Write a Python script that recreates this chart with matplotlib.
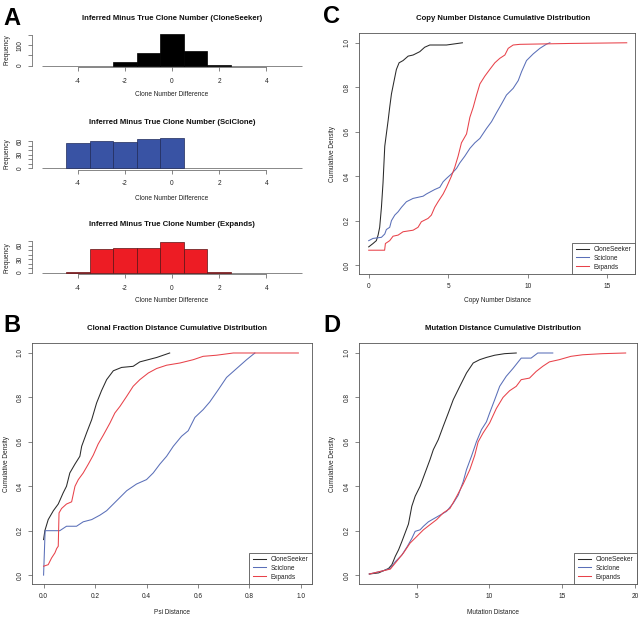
import matplotlib
matplotlib.use("Agg")
import matplotlib.pyplot as plt
import numpy as np

plt.rcParams['font.family'] = ['Liberation Sans', 'DejaVu Sans']

# ---------------- data ----------------
clone_diff = [-5, -4, -3, -2, -1, 0, 1, 2, 3, 4, 5]
cs_counts = [0, 0, 0, 17, 62, 154, 71, 3, 0, 0, 0]
sc_counts = [0, 55, 61, 57, 64, 66, 0, 0, 0, 0, 0]
ex_counts = [0, 1, 52, 54, 55, 69, 53, 1, 0, 0, 0]

hist_titles = ["Inferred Minus True Clone Number (CloneSeeker)",
               "Inferred Minus True Clone Number (SciClone)",
               "Inferred Minus True Clone Number (Expands)"]
hist_yticks = [[0, 50, 100, 150], [0, 10, 20, 30, 40, 50, 60], [0, 10, 20, 30, 40, 50, 60, 70]]
hist_ylabels = [["0", "", "100", ""], ["0", "", "", "30", "", "", "60"],
                ["0", "", "", "30", "", "", "60", ""]]
hist_xticks = [-4, -2, 0, 2, 4]

# Panel B: Psi distance ECDFs
B_cs_x = [0.0, 0.005, 0.018, 0.038, 0.057, 0.076, 0.089, 0.102, 0.122, 0.141, 0.148, 0.167, 0.187,
          0.206, 0.225, 0.245, 0.271, 0.303, 0.348, 0.374, 0.407, 0.440, 0.465, 0.49]
B_cs_y = [0.16, 0.20, 0.25, 0.29, 0.32, 0.37, 0.40, 0.46, 0.50, 0.535, 0.58, 0.64, 0.70,
          0.775, 0.83, 0.88, 0.92, 0.935, 0.94, 0.96, 0.97, 0.98, 0.99, 1.0]
B_sc_x = [0.0, 0.003, 0.006, 0.063, 0.089, 0.128, 0.154, 0.187, 0.219, 0.245, 0.271, 0.297, 0.323,
          0.361, 0.400, 0.426, 0.452, 0.478, 0.504, 0.536, 0.562, 0.588, 0.620, 0.646, 0.679, 0.711,
          0.750, 0.789, 0.821]
B_sc_y = [0.0, 0.10, 0.20, 0.20, 0.22, 0.22, 0.24, 0.25, 0.27, 0.29, 0.32, 0.35, 0.38,
          0.41, 0.43, 0.46, 0.50, 0.535, 0.58, 0.625, 0.65, 0.71, 0.745, 0.78, 0.835, 0.89,
          0.93, 0.97, 1.0]
B_ex_x = [0.0, 0.018, 0.031, 0.044, 0.051, 0.057, 0.060, 0.070, 0.089, 0.109, 0.122, 0.135, 0.154,
          0.174, 0.193, 0.212, 0.232, 0.258, 0.277, 0.297, 0.323, 0.348, 0.374, 0.407, 0.439, 0.478,
          0.530, 0.582, 0.620, 0.672, 0.737, 0.99]
B_ex_y = [0.04, 0.047, 0.077, 0.10, 0.12, 0.13, 0.28, 0.30, 0.32, 0.33, 0.40, 0.43, 0.46,
          0.50, 0.54, 0.59, 0.63, 0.685, 0.73, 0.76, 0.805, 0.85, 0.88, 0.91, 0.93, 0.945,
          0.955, 0.97, 0.985, 0.99, 1.0, 1.0]

# Panel C: copy number distance ECDFs
C_cs_x = [0.0, 0.27, 0.48, 0.59, 0.69, 0.80, 0.90, 1.01, 1.11, 1.22, 1.32, 1.43, 1.57, 1.74, 1.91,
          2.16, 2.48, 2.79, 3.21, 3.52, 3.84, 4.89, 5.89]
C_cs_y = [0.082, 0.097, 0.11, 0.135, 0.17, 0.26, 0.37, 0.535, 0.59, 0.65, 0.71, 0.77, 0.82, 0.88, 0.91,
          0.92, 0.94, 0.945, 0.96, 0.98, 0.99, 0.99, 1.0]
C_sc_x = [0.0, 0.27, 0.80, 1.01, 1.11, 1.32, 1.43, 1.64, 1.85, 2.06, 2.37, 2.79, 3.42, 3.63, 4.15,
          4.47, 4.68, 4.89, 5.20, 5.52, 5.73, 6.04, 6.36, 6.67, 6.99, 7.41, 7.72, 8.03, 8.35, 8.66,
          9.08, 9.40, 9.61, 9.92, 10.34, 10.76, 11.18, 11.39]
C_sc_y = [0.11, 0.12, 0.125, 0.14, 0.16, 0.17, 0.20, 0.225, 0.24, 0.26, 0.285, 0.30, 0.31, 0.32, 0.34,
          0.35, 0.375, 0.39, 0.41, 0.435, 0.46, 0.49, 0.525, 0.55, 0.57, 0.615, 0.645, 0.685, 0.725,
          0.765, 0.795, 0.83, 0.87, 0.92, 0.95, 0.975, 0.994, 1.0]
C_ex_x = [0.0, 1.0, 1.05, 1.32, 1.53, 1.85, 2.16, 2.79, 3.10, 3.31, 3.73, 3.94, 4.15, 4.36, 4.68,
          4.89, 5.20, 5.41, 5.62, 5.83, 6.15, 6.36, 6.57, 6.78, 6.99, 7.30, 7.61, 7.93, 8.24, 8.56,
          8.77, 9.08, 9.50, 12.65, 16.22]
C_ex_y = [0.067, 0.067, 0.097, 0.11, 0.13, 0.135, 0.15, 0.157, 0.17, 0.195, 0.21, 0.225, 0.26, 0.285,
          0.32, 0.35, 0.40, 0.44, 0.49, 0.55, 0.59, 0.665, 0.71, 0.765, 0.815, 0.85, 0.88, 0.91, 0.93,
          0.945, 0.975, 0.99, 0.993, 0.997, 1.0]

# Panel D: mutation distance ECDFs
D_cs_x = [1.74, 2.38, 2.72, 3.06, 3.29, 3.52, 3.75, 3.97, 4.20, 4.43, 4.66, 4.89, 5.23, 5.57, 5.91,
          6.14, 6.48, 6.82, 7.17, 7.51, 7.96, 8.42, 8.88, 9.33, 9.79, 10.36, 11.04, 11.84]
D_cs_y = [0.005, 0.01, 0.02, 0.03, 0.047, 0.084, 0.114, 0.15, 0.19, 0.23, 0.31, 0.355, 0.40, 0.46, 0.52,
          0.565, 0.61, 0.67, 0.73, 0.79, 0.85, 0.91, 0.955, 0.97, 0.98, 0.99, 0.997, 1.0]
D_sc_x = [1.74, 2.72, 3.18, 3.52, 3.97, 4.36, 4.66, 4.89, 5.23, 5.46, 5.80, 6.25, 6.60, 7.05, 7.51,
          7.85, 8.19, 8.42, 8.76, 9.10, 9.45, 9.79, 10.01, 10.36, 10.70, 11.15, 11.61, 12.18, 12.86,
          13.32, 14.35]
D_sc_y = [0.005, 0.02, 0.03, 0.06, 0.09, 0.13, 0.165, 0.197, 0.204, 0.22, 0.24, 0.257, 0.27, 0.287,
          0.324, 0.36, 0.42, 0.475, 0.535, 0.60, 0.655, 0.69, 0.73, 0.79, 0.85, 0.895, 0.93, 0.977,
          0.977, 1.0, 1.0]
D_ex_x = [1.74, 2.72, 3.18, 3.52, 4.09, 4.54, 5.0, 5.46, 5.91, 6.37, 6.82, 7.28, 7.74, 8.19, 8.65,
          8.99, 9.22, 9.56, 10.01, 10.47, 10.93, 11.38, 11.84, 12.18, 12.75, 13.21, 13.66, 14.12,
          14.80, 15.60, 16.40, 17.76, 19.36]
D_ex_y = [0.005, 0.02, 0.027, 0.054, 0.10, 0.144, 0.174, 0.204, 0.227, 0.25, 0.28, 0.30, 0.354,
          0.41, 0.475, 0.54, 0.60, 0.64, 0.685, 0.75, 0.80, 0.83, 0.85, 0.88, 0.887, 0.917, 0.94,
          0.96, 0.97, 0.985, 0.992, 0.997, 1.0]

legend_labels = ["CloneSeeker", "Sciclone", "Expands"]
ytick_vals = [0.0, 0.2, 0.4, 0.6, 0.8, 1.0]

# ---------------- styling ----------------
W, H = 643, 617
fig = plt.figure(figsize=(W / 100, H / 100), dpi=100)
fig.patch.set_facecolor("white")

FS = 4.7
TFS = 5.6
AXC = "#555555"
LINE_K = "#2a2a2a"
LINE_B = "#5a6fb8"
LINE_R = "#e8424a"


def px_axes(l, t, r, b):
    return fig.add_axes([l / W, 1 - b / H, (r - l) / W, (b - t) / H])


def style_ticks(ax):
    ax.tick_params(axis="both", which="both", direction="out", length=2.8, width=0.5,
                   color=AXC, labelsize=FS, pad=3.4, labelcolor="#222222")
    ax.tick_params(axis="y", labelrotation=90)
    for lab in ax.get_yticklabels():
        lab.set_va("center")


def ftext(x, y, s, **kw):
    fig.text(x / W, 1 - y / H, s, **kw)


# ---------------- Panel A: histograms ----------------
hist_counts = [cs_counts, sc_counts, ex_counts]
hist_face = ["#000000", "#3953a4", "#ed1c24"]
hist_edge = ["#000000", "#1f2a5a", "#5a1214"]
hist_tb = [(33, 66.75), (137.1, 169.5), (240.4, 273.9)]
hist_title_y = [18, 123, 225]
hist_xlab_y = [95, 198, 301]

for i in range(3):
    t, b = hist_tb[i]
    ax = px_axes(32, t, 312, b)
    counts = hist_counts[i]
    centers = np.array(clone_diff, dtype=float)
    edges_lo = centers - 0.5
    edges_hi = centers + 0.5
    ax.hlines(0, edges_lo[0], edges_hi[-1], color="#888888", lw=0.7, zorder=1)
    nz = [j for j, c in enumerate(counts) if c > 0]
    ax.bar(centers[nz], [counts[j] for j in nz], width=1.0, color=hist_face[i],
           edgecolor=hist_edge[i], linewidth=0.5, zorder=2)
    ax.set_xlim(-5.94, 5.94)
    m = max(counts)
    ax.set_ylim(-0.04 * m, 1.04 * m)
    for s in ["top", "right"]:
        ax.spines[s].set_visible(False)
    ax.spines["left"].set_bounds(hist_yticks[i][0], hist_yticks[i][-1])
    ax.spines["bottom"].set_bounds(hist_xticks[0], hist_xticks[-1])
    for s in ["left", "bottom"]:
        ax.spines[s].set_color(AXC)
        ax.spines[s].set_linewidth(0.5)
    ax.set_xticks(hist_xticks)
    ax.set_xticklabels([str(v) for v in hist_xticks])
    ax.set_yticks(hist_yticks[i])
    ax.set_yticklabels(hist_ylabels[i])
    ax.set_facecolor("none")
    style_ticks(ax)
    ax.tick_params(axis="x", pad=5.0)
    ftext(172, hist_title_y[i], hist_titles[i], ha="center", va="center",
          fontsize=TFS, fontweight="bold", color="#111111")
    ftext(172, hist_xlab_y[i], "Clone Number Difference", ha="center", va="center",
          fontsize=FS, color="#222222")
    ftext(7, (t + b) / 2, "Frequency", ha="center", va="center", rotation=90,
          fontsize=FS, color="#222222")


# ---------------- ECDF panels ----------------
def ecdf_panel(box, series, xlim, ylim, xticks, xticklabels, title, title_xy, xlabel, xlab_xy, ylab_x):
    ax = px_axes(*box)
    cols = [LINE_K, LINE_B, LINE_R]
    for (xs, ys), c, lab in zip(series, cols, legend_labels):
        ax.plot(xs, ys, color=c, lw=0.75, label=lab)
    ax.set_xlim(*xlim)
    ax.set_ylim(*ylim)
    ax.set_xticks(xticks)
    ax.set_xticklabels(xticklabels)
    ax.set_yticks(ytick_vals)
    ax.set_yticklabels(["%.1f" % v for v in ytick_vals])
    for s in ax.spines.values():
        s.set_color(AXC)
        s.set_linewidth(0.6)
    style_ticks(ax)
    leg = ax.legend(loc="lower right", fontsize=FS, frameon=True, fancybox=False,
                    borderaxespad=0.0, borderpad=0.5, labelspacing=0.3, handlelength=2.0,
                    handletextpad=0.8, framealpha=1.0)
    leg.get_frame().set_edgecolor(AXC)
    leg.get_frame().set_linewidth(0.6)
    for txt in leg.get_texts():
        txt.set_color("#222222")
    ftext(title_xy[0], title_xy[1], title, ha="center", va="center",
          fontsize=TFS, fontweight="bold", color="#111111")
    ftext(xlab_xy[0], xlab_xy[1], xlabel, ha="center", va="center", fontsize=FS, color="#222222")
    ftext(ylab_x, (box[1] + box[3]) / 2, "Cumulative Density", ha="center", va="center",
          rotation=90, fontsize=FS, color="#222222")
    return ax


ecdf_panel((32, 343, 312, 584), [(B_cs_x, B_cs_y), (B_sc_x, B_sc_y), (B_ex_x, B_ex_y)],
           (-0.045, 1.043), (-0.04, 1.045), [0.0, 0.2, 0.4, 0.6, 0.8, 1.0],
           ["0.0", "0.2", "0.4", "0.6", "0.8", "1.0"],
           "Clonal Fraction Distance Cumulative Distribution", (177, 329),
           "Psi Distance", (172, 612), 7)

ecdf_panel((359, 33, 635, 274), [(C_cs_x, C_cs_y), (C_sc_x, C_sc_y), (C_ex_x, C_ex_y)],
           (-0.61, 16.74), (-0.04, 1.044), [0, 5, 10, 15], ["0", "5", "10", "15"],
           "Copy Number Distance Cumulative Distribution", (503, 19),
           "Copy Number Distance", (497, 301), 332)

ecdf_panel((359, 343, 637, 584), [(D_cs_x, D_cs_y), (D_sc_x, D_sc_y), (D_ex_x, D_ex_y)],
           (1.03, 20.14), (-0.04, 1.045), [5, 10, 15, 20], ["5", "10", "15", "20"],
           "Mutation Distance Cumulative Distribution", (503, 329),
           "Mutation Distance", (493, 612), 332)

# panel letters
for letter, (x, y) in zip("ABCD", [(3, 25), (3, 332), (323, 23), (323, 332)]):
    ftext(x, y, letter, ha="left", va="baseline", fontsize=17, fontweight="bold", color="#000000")

fig.savefig("out.png", dpi=100, facecolor="white")
